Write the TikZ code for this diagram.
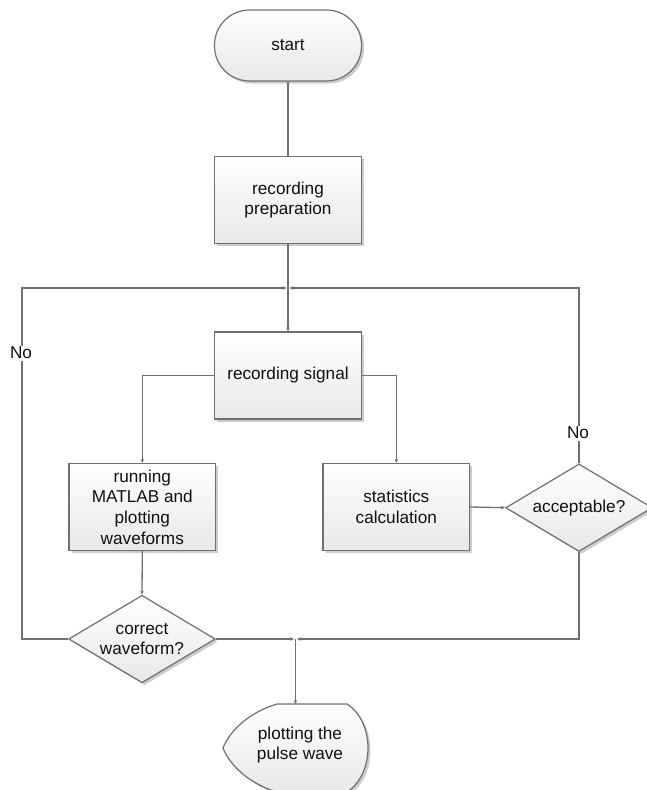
\documentclass[tikz,border=0pt]{standalone}
\usepackage{fontspec}
\setmainfont{Liberation Sans}
\usetikzlibrary{shapes.geometric,shadows,arrows.meta}
\definecolor{ln}{HTML}{707070}
\definecolor{txt}{HTML}{101010}
\tikzset{
 txtfont/.style={font=\fontsize{17.2}{20.7}\selectfont, text=txt},
 shp/.style={draw=ln, line width=1.2pt, top color=white, bottom color=black!9,
   drop shadow={shadow xshift=2.5pt,shadow yshift=-2.5pt,fill=black!20,opacity=1},
   txtfont, align=center, inner sep=0pt},
 procbox/.style={shp, rectangle, minimum width=146.5pt, minimum height=87pt},
 decide/.style={shp, diamond, aspect=1.67, minimum width=146.6pt, minimum height=87.5pt},
 conn/.style={draw=ln, line width=1.3pt},
 arr/.style={conn, -{Stealth[length=4pt,width=3.5pt]}},
 lbl/.style={fill=white, inner sep=1.5pt, txtfont}
}
\begin{document}
\begin{tikzpicture}[x=1pt,y=-1pt]
\useasboundingbox (0,0) rectangle (647,790);
% nodes
\node[shp, rectangle, rounded corners=35pt, minimum width=147pt, minimum height=71pt] (start) at (288,45.5) {start};
\node[procbox] (prep) at (288,200) {recording\\preparation};
\node[procbox] (signal) at (288,375.5) {recording signal};
\node[procbox] (matlab) at (142.3,507) {running\\MATLAB and\\plotting\\waveforms};
\node[procbox] (stats) at (396.3,507) {statistics\\calculation};
\node[decide] (accept) at (579,507.7) {acceptable?};
\node[decide] (correct) at (142,639) {correct\\waveform?};
% display shape
\path[shp] (277,704) -- (347,704) .. controls (375,722) and (375,774) .. (347,792)
  -- (277,792) .. controls (250,784) and (230,766) .. (223,748)
  .. controls (230,730) and (250,712) .. (277,704) -- cycle;
\node[txtfont, align=center] (disp) at (300,745) {plotting the\\pulse wave};
% coordinates
\coordinate (j1) at (288,288);
\coordinate (j2) at (295.5,639);
\coordinate (lft) at (22,288);
\coordinate (rgt) at (579,288);
\coordinate (disptop) at (295.5,704);
% connectors
\draw[conn] (start) -- (prep);
\draw[arr] (prep.south) -- (signal.north);
\draw[arr] (correct.west) -| (lft) -- ([xshift=-1.5pt]j1);
\draw[arr] (accept.north) -- (rgt) -- ([xshift=1.5pt]j1);
\draw[arr] (signal.west) -| (matlab.north);
\draw[arr] (signal.east) -| (stats.north);
\draw[arr] (matlab.south) -- (correct.north);
\draw[arr] (stats.east) -- (accept.west);
\draw[arr] (correct.east) -- ([xshift=-1.5pt]j2);
\draw[arr] (accept.south) |- ([xshift=1.5pt]j2);
\draw[arr] (j2) -- (disptop);
% labels
\node[lbl] (no1) at (21,353) {No};
\node[lbl] (no2) at (578,433) {No};
\end{tikzpicture}
\end{document}
